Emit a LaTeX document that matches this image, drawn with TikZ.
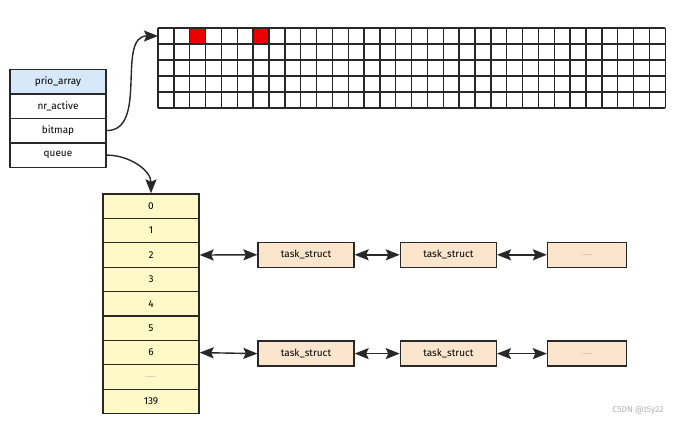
\documentclass[tikz,border=0pt]{standalone}
\usepackage{fontspec}
\setmainfont{Fira Sans}
\usetikzlibrary{arrows.meta}
\definecolor{hdrblue}{RGB}{214,232,250}
\definecolor{cellyel}{RGB}{255,249,200}
\definecolor{peach}{RGB}{252,229,205}
\definecolor{edge}{RGB}{40,40,40}
\definecolor{bitred}{RGB}{235,0,0}
\tikzset{
  fld/.style={draw=edge, line width=1.3pt, rectangle, minimum width=96pt, minimum height=24.5pt, inner sep=0pt, font=\fontsize{10}{11}\selectfont},
  hdr/.style={fld, fill=hdrblue},
  slot/.style={draw=edge, line width=1.3pt, fill=cellyel, rectangle, minimum width=96pt, minimum height=24.4pt, inner sep=0pt, font=\fontsize{10}{11}\selectfont},
  task/.style={draw=edge, line width=1.3pt, fill=peach, rectangle, minimum width=96pt, minimum height=25pt, inner sep=0pt, font=\fontsize{10}{11}\selectfont},
  dots/.style={text=gray!70, font=\fontsize{7}{8}\selectfont},
  link/.style={line width=1.4pt, draw=edge, arrows={Stealth[length=14pt,width=11pt,inset=2.5pt]-Stealth[length=14pt,width=11pt,inset=2.5pt]}},
  ptr/.style={line width=1.4pt, draw=edge, arrows={-Stealth[length=14pt,width=11pt,inset=2.5pt]}},
  gridline/.style={draw=edge, line width=1.4pt}
}
\begin{document}
\begin{tikzpicture}[x=1pt,y=-1pt]
\useasboundingbox[fill=white] (0,0) rectangle (684,423);
% prio_array struct
\node[hdr] (pa) at (58,81.6) {prio\_array};
\node[fld] (nr) at (58,106.1) {nr\_active};
\node[fld] (bm) at (58,130.6) {bitmap};
\node[fld] (qu) at (58,155.1) {queue};
% bitmap grid
\fill[bitred] (158+2*15.85,28) rectangle (158+3*15.85,44);
\fill[bitred] (158+6*15.85,28) rectangle (158+7*15.85,44);
\foreach \i in {0,...,32} \draw[gridline] (158+\i*15.85,28) -- (158+\i*15.85,108);
\foreach \j in {0,...,5} \draw[gridline] (158,28+\j*16) -- (665.2,28+\j*16);
\coordinate (gridin) at (158,36);
% priority queue array
\foreach \n/\t [count=\k from 0] in {a0/0,a1/1,a2/2,a3/3,a4/4,a5/5,a6/6,a7/{},a8/139}
  \node[slot] (\n) at (151,206.2+\k*24.4) {\t};
\node[dots] at (a7) {......};
% task lists
\node[task] (t21) at (306,254.8) {task\_struct};
\node[task] (t22) at (448.4,254.8) {task\_struct};
\node[task, minimum width=79pt] (t23) at (587,254.8) {};
\node[dots] at (t23) {......};
\node[task] (t61) at (306,353.6) {task\_struct};
\node[task] (t62) at (448.4,353.6) {task\_struct};
\node[task, minimum width=79pt] (t63) at (587,353.6) {};
\node[dots] at (t63) {......};
\draw[link] (a2.east) -- (t21.west);
\draw[link] (t21.east) -- (t22.west);
\draw[link] (t22.east) -- (t23.west);
\draw[link] (a6.east) -- (t61.west);
\draw[link] (t61.east) -- (t62.west);
\draw[link] (t62.east) -- (t63.west);
% pointers
\draw[ptr] (bm.east) to[out=0,in=180] (gridin);
\draw[ptr] (qu.east) to[out=0,in=90] (a0.north);
% watermark
\node[text=gray!60, font=\fontsize{8.5}{9}\selectfont] (wm) at (638,410) {CSDN @t5y22};
\end{tikzpicture}
\end{document}
